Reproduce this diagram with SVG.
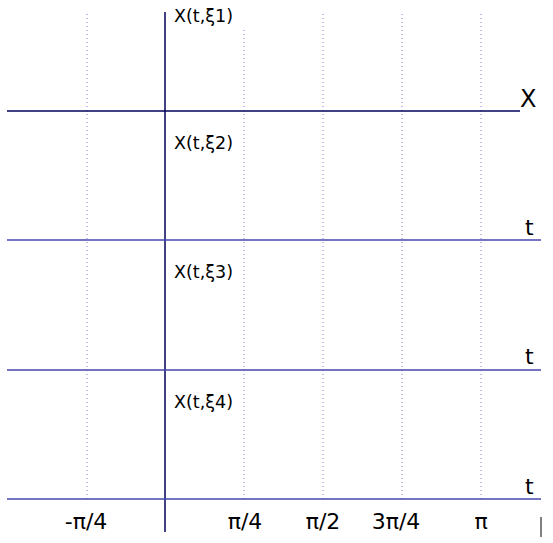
<svg xmlns="http://www.w3.org/2000/svg" width="553" height="543" viewBox="0 0 553 543">
<style>
.dot{stroke:#8a7fe0;stroke-width:1;stroke-dasharray:1,3}
.ax{stroke:#000058;stroke-width:1.5;fill:none}
.tl{stroke:#4646ac;stroke-width:1.3}
.lab{font-family:"DejaVu Sans",Verdana,sans-serif;font-size:17.5px;fill:#000}
.big{font-family:"DejaVu Sans",Verdana,sans-serif;font-size:22px;fill:#000}
</style>
<rect width="553" height="543" fill="#fff"/>
<g id="grid">
<line class="dot" x1="87" y1="14" x2="87" y2="499"/>
<line class="dot" x1="244" y1="30" x2="244" y2="499"/>
<line class="dot" x1="323" y1="14" x2="323" y2="499"/>
<line class="dot" x1="402" y1="14" x2="402" y2="499"/>
<line class="dot" x1="481" y1="14" x2="481" y2="499"/>
</g>
<g id="connectors">
<line class="ax" x1="165" y1="12" x2="165" y2="532"/>
<line class="ax" x1="7" y1="111" x2="520" y2="111"/>
<line class="tl" x1="7" y1="240" x2="541" y2="240"/>
<line class="tl" x1="7" y1="370" x2="541" y2="370"/>
<line class="tl" x1="7" y1="499" x2="541" y2="499"/>
<line x1="541" y1="517" x2="541" y2="537" stroke="#000" stroke-width="1"/>
</g>
<g id="labels">
<text class="lab" x="174" y="22">X(t,ξ1)</text>
<text class="lab" x="174" y="149">X(t,ξ2)</text>
<text class="lab" x="174" y="278">X(t,ξ3)</text>
<text class="lab" x="174" y="408">X(t,ξ4)</text>
<text x="520" y="107" font-family="DejaVu Sans,Verdana,sans-serif" font-size="24">X</text>
<text class="big" x="525" y="235">t</text>
<text class="big" x="525" y="364">t</text>
<text class="big" x="525" y="494">t</text>
<text class="big" x="86" y="529" text-anchor="middle">-π/4</text>
<text class="big" x="245" y="529" text-anchor="middle">π/4</text>
<text class="big" x="323" y="529" text-anchor="middle">π/2</text>
<text class="big" x="396" y="529" text-anchor="middle">3π/4</text>
<text class="big" x="481" y="529" text-anchor="middle">π</text>
</g>
</svg>
